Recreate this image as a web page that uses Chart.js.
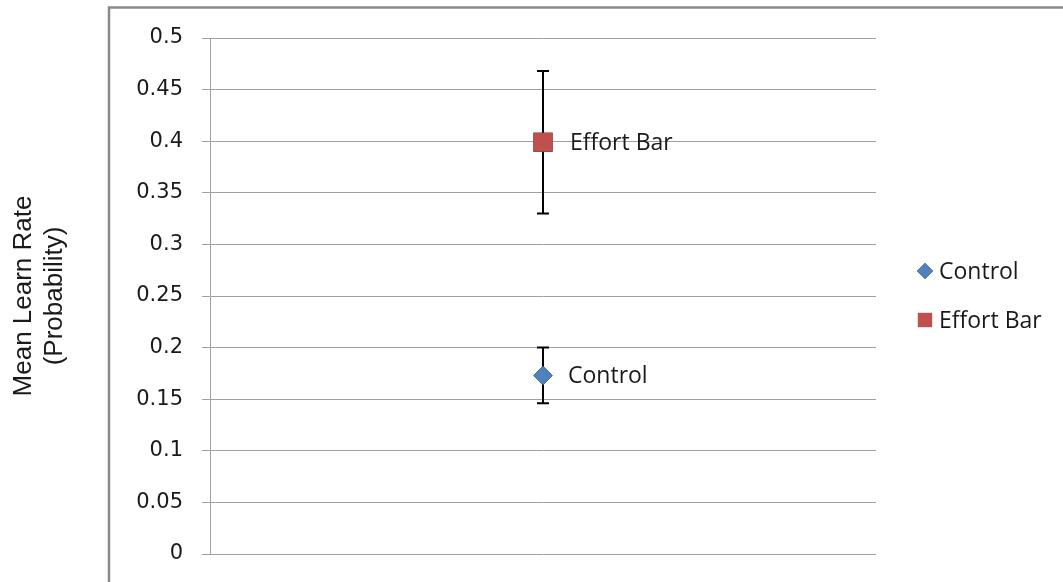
<!DOCTYPE html>
<html>
<head>
<meta charset="utf-8">
<script src="https://cdn.jsdelivr.net/npm/chart.js@4/dist/chart.umd.min.js"></script>
<style>
  html, body { margin: 0; padding: 0; background: #fff; }
  #wrap { width: 1063px; height: 582px; }
</style>
</head>
<body>
<div id="wrap"><canvas id="chart" width="1063" height="582"></canvas></div>
<script>
const seriesNames = ["Control", "Effort Bar"];
const seriesMeans = [0.173, 0.399];
const seriesErrors = [0.027, 0.069];
const seriesColors = ["#4f81bd", "#c0504d"];
const seriesShapes = ["rectRot", "rect"];
const yTicks = [0, 0.05, 0.1, 0.15, 0.2, 0.25, 0.3, 0.35, 0.4, 0.45, 0.5];

const labelFont = "23px 'Open Sans'";
const markerRadius = [9.5, 13.4];
const legendRadius = [8, 10];

// outer frame like the spreadsheet chart area
const framePlugin = {
  id: "frame",
  beforeDraw: (chart) => {
    const { ctx } = chart;
    ctx.save();
    ctx.strokeStyle = "#8a8a8a";
    ctx.lineWidth = 2.5;
    ctx.strokeRect(109, 7.5, 1100, 700);
    ctx.restore();
  },
};

// error bars, point labels and the legend on the right
const extrasPlugin = {
  id: "extras",
  afterDraw: (chart) => {
    const { ctx } = chart;
    const x = chart.scales.x;
    const y = chart.scales.y;
    ctx.save();
    ctx.font = labelFont;
    ctx.textBaseline = "middle";
    chart.data.datasets.forEach((ds, i) => {
      const p = ds.data[0];
      const px = x.getPixelForValue(p.x);
      const py = y.getPixelForValue(p.y);
      const top = y.getPixelForValue(p.y + seriesErrors[i]);
      const bot = y.getPixelForValue(p.y - seriesErrors[i]);
      ctx.strokeStyle = "#000";
      ctx.lineWidth = 2;
      ctx.beginPath();
      ctx.moveTo(px, top); ctx.lineTo(px, bot);
      ctx.moveTo(px - 6, top); ctx.lineTo(px + 6, top);
      ctx.moveTo(px - 6, bot); ctx.lineTo(px + 6, bot);
      ctx.stroke();
      // marker on top of the error bar
      ctx.beginPath();
      Chart.helpers.drawPoint(ctx, {
        pointStyle: seriesShapes[i], radius: markerRadius[i], rotation: 0, borderWidth: 0,
      }, px, py);
      ctx.fillStyle = seriesColors[i];
      ctx.fill();
      ctx.fillStyle = "#1a1a1a";
      ctx.fillText(ds.label, px + (i === 0 ? 25 : 27), py + 1);
    });
    // legend
    const legendY = [271, 320];
    chart.data.datasets.forEach((ds, i) => {
      ctx.beginPath();
      Chart.helpers.drawPoint(ctx, {
        pointStyle: seriesShapes[i], radius: legendRadius[i], rotation: 0, borderWidth: 0,
      }, 925, legendY[i]);
      ctx.fillStyle = seriesColors[i];
      ctx.fill();
      ctx.fillStyle = "#1a1a1a";
      ctx.fillText(ds.label, 939, legendY[i] + 1);
    });
    ctx.restore();
  },
};

const datasets = seriesNames.map((name, i) => ({
  label: name,
  data: [{ x: 1, y: seriesMeans[i] }],
  backgroundColor: seriesColors[i],
  borderColor: seriesColors[i],
  pointStyle: seriesShapes[i],
  pointRadius: markerRadius[i],
  borderWidth: 0,
}));

new Chart(document.getElementById("chart").getContext("2d"), {
  type: "scatter",
  data: { datasets: datasets },
  options: {
    responsive: false,
    animation: false,
    layout: { autoPadding: false, padding: { left: 0, top: 38, right: 187, bottom: 28 } },
    plugins: {
      legend: { display: false },
      tooltip: { enabled: false },
    },
    scales: {
      x: {
        type: "linear",
        min: 0,
        max: 2,
        display: false,
      },
      y: {
        min: 0,
        max: 0.5,
        afterBuildTicks: (axis) => { axis.ticks = yTicks.map((v) => ({ value: v })); },
        afterFit: (axis) => {
          axis.width = 210;
          axis.paddingTop = 0;
          axis.paddingBottom = 0;
        },
        border: { display: true, color: "#a0a0a0", width: 1 },
        grid: { color: "#a0a0a0", lineWidth: 1, tickLength: 8, drawTicks: true },
        ticks: {
          padding: 19,
          color: "#1a1a1a",
          font: { family: "DejaVu Sans", size: 21 },
          callback: (v) => String(+v.toFixed(2)),
        },
        title: {
          display: true,
          text: ["Mean Learn Rate", "(Probability)"],
          color: "#1a1a1a",
          font: { family: "Liberation Sans", size: 26 },
          padding: { top: 8, bottom: 60 },
        },
      },
    },
  },
  plugins: [framePlugin, extrasPlugin],
});
</script>
</body>
</html>
